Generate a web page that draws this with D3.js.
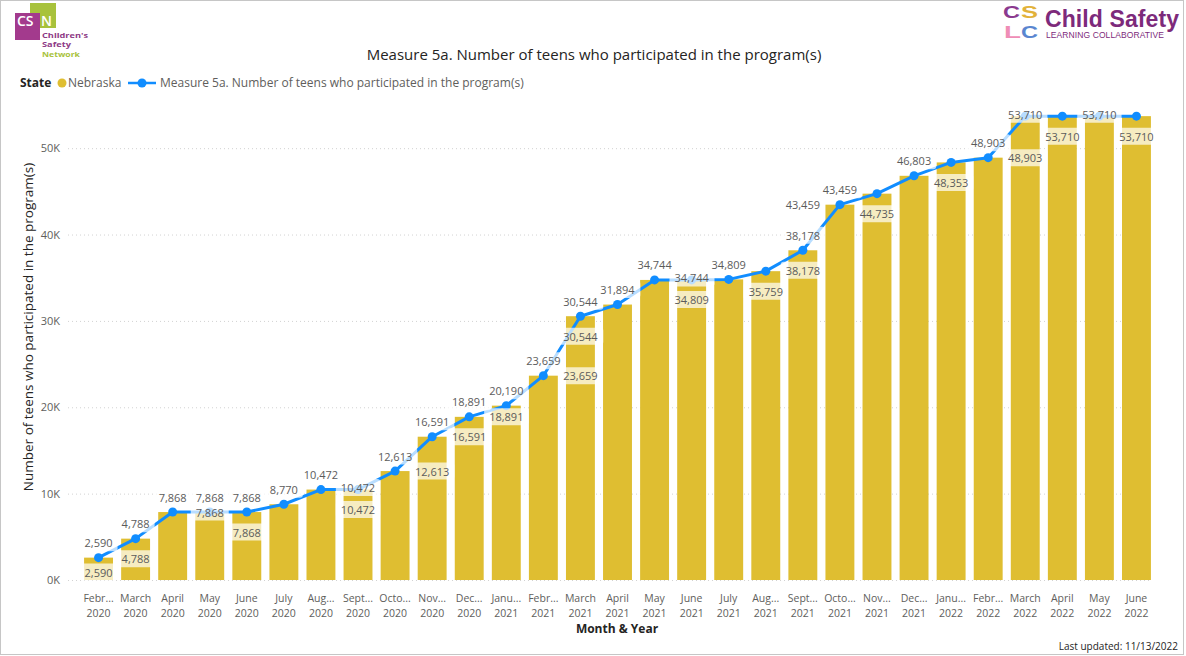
<!DOCTYPE html>
<html>
<head>
<meta charset="utf-8">
<script src="https://cdn.jsdelivr.net/npm/d3@7"></script>
<style>
  body { margin: 0; background: #fff; }
  text { font-family: "Segoe UI", "Open Sans", sans-serif; }
</style>
</head>
<body>
<svg id="chart" width="1186" height="656"></svg>
<script>
// month tick labels as shown (Power BI truncates the long ones)
var monthTicks = ["Febr...", "March", "April", "May", "June", "July", "Aug...", "Sept...", "Octo...", "Nov...", "Dec...",
  "Janu...", "Febr...", "March", "April", "May", "June", "July", "Aug...", "Sept...", "Octo...", "Nov...", "Dec...",
  "Janu...", "Febr...", "March", "April", "May", "June"];
var yearTicks = ["2020", "2020", "2020", "2020", "2020", "2020", "2020", "2020", "2020", "2020", "2020",
  "2021", "2021", "2021", "2021", "2021", "2021", "2021", "2021", "2021", "2021", "2021", "2021",
  "2022", "2022", "2022", "2022", "2022", "2022"];

// Nebraska, number of teens (bars and line carry the same measure)
var teens = [2590, 4788, 7868, 7868, 7868, 8770, 10472, 10472, 12613, 16591, 18891,
  20190, 23659, 30544, 31894, 34744, 34744, 34809, 35759, 38178, 43459, 44735, 46803,
  48353, 48903, 53710, 53710, 53710, 53710];

// which line labels power bi kept: "above" the dot, "on" the dot, or "" hidden
var lineLabelMode = ["above", "above", "above", "above", "above", "above", "above", "on", "above", "above", "above",
  "above", "above", "above", "above", "above", "on", "above", "", "above", "above", "", "above",
  "", "above", "on", "", "on", ""];

// column labels shown inside the bar end
var barLabelsInside = [2590, 4788, null, null, 7868, null, null, 10472, null, null, null,
  null, null, 30544, null, null, 34809, null, 35759, 38178, null, 44735, null,
  48353, null, null, 53710, null, 53710];
// column labels shown at their own level
var barLabelsLevel = [null, null, null, 7868, null, null, null, null, null, 12613, 16591,
  18891, null, 23659, null, null, null, null, null, 43459, null, null, null,
  null, null, 48903, null, null, null];

var yTicks = [0, 10000, 20000, 30000, 40000, 50000];

var svg = d3.select("#chart");
var fmt = d3.format(",");
var barColor = "#DFBE31", lineColor = "#118DFF";

svg.append("rect")
  .attr("x", 0.5).attr("y", 0.5).attr("width", 1183).attr("height", 654)
  .attr("fill", "#fff").attr("stroke", "#c6c6c6");

// logos, top left and top right
var csn = svg.append("g");
csn.append("rect").attr("x", 30).attr("y", 3).attr("width", 26).attr("height", 25).attr("fill", "#A8C23C");
csn.append("rect").attr("x", 15).attr("y", 13).attr("width", 25).attr("height", 27).attr("fill", "#A33A8D");
var csnText = csn.append("text").attr("y", 26).attr("fill", "#fff").attr("font-size", 14).attr("font-weight", 600);
csnText.append("tspan").attr("x", 17).text("CS");
csnText.append("tspan").attr("x", 41).text("N");
[["Children's", 37.5, 46, "#8E3A86"], ["Safety", 47, 29, "#8E3A86"], ["Network", 56.5, 38, "#A8C23C"]].forEach(function(t) {
  csn.append("text").attr("x", 42).attr("y", t[1]).attr("fill", t[3])
    .attr("font-size", 7).attr("font-weight", 700)
    .attr("textLength", t[2]).attr("lengthAdjust", "spacingAndGlyphs").text(t[0]);
});

var logoFont = "'Liberation Sans', Arial, sans-serif";
[["C", 1003, 18, "#8B3A8F"], ["S", 1021, 18, "#E2B23A"], ["L", 1004, 38, "#EF8DB6"], ["C", 1021, 38, "#5A86D0"]].forEach(function(l) {
  svg.append("text").attr("x", l[1]).attr("y", l[2]).attr("fill", l[3])
    .attr("font-size", 17).attr("font-weight", 900)
    .attr("textLength", 17).attr("lengthAdjust", "spacingAndGlyphs")
    .style("font-family", logoFont).text(l[0]);
});
svg.append("text").attr("x", 1045).attr("y", 27).attr("fill", "#7D2A7B")
  .attr("font-size", 23).attr("font-weight", 700).attr("textLength", 134)
  .style("font-family", logoFont).text("Child Safety");
svg.append("text").attr("x", 1046).attr("y", 38).attr("fill", "#7D2A7B")
  .attr("font-size", 8.5).attr("textLength", 118)
  .style("font-family", logoFont).text("LEARNING COLLABORATIVE");

// title
svg.append("text").attr("x", 594).attr("y", 60).attr("text-anchor", "middle")
  .attr("font-size", 15).attr("fill", "#252423")
  .text("Measure 5a. Number of teens who participated in the program(s)");

// legend
var leg = svg.append("g").attr("font-size", 12);
leg.append("text").attr("x", 20).attr("y", 87).attr("font-weight", 700).attr("fill", "#252423").text("State");
leg.append("circle").attr("cx", 62).attr("cy", 83).attr("r", 4.5).attr("fill", barColor);
leg.append("text").attr("x", 68).attr("y", 87).attr("fill", "#605E5C").text("Nebraska");
leg.append("line").attr("x1", 128).attr("x2", 156).attr("y1", 83).attr("y2", 83).attr("stroke", lineColor).attr("stroke-width", 2.5);
leg.append("circle").attr("cx", 142).attr("cy", 83).attr("r", 4.5).attr("fill", lineColor);
leg.append("text").attr("x", 160).attr("y", 87).attr("fill", "#605E5C")
  .text("Measure 5a. Number of teens who participated in the program(s)");

// scales
var x = d3.scaleBand().domain(d3.range(teens.length)).range([80, 1155]).paddingInner(0.22).paddingOuter(0.11);
var y = d3.scaleLinear().domain([0, 55000]).range([580, 105]);
var cx = function(i) { return x(i) + x.bandwidth() / 2; };

// y axis with dotted grid
var yAxis = svg.append("g").attr("transform", "translate(68,0)")
  .call(d3.axisLeft(y).tickValues(yTicks).tickSize(-1082).tickPadding(8)
    .tickFormat(function(d) { return (d / 1000) + "K"; }));
yAxis.select(".domain").remove();
yAxis.selectAll(".tick line").attr("stroke", "#d2d2d2").attr("stroke-dasharray", "1,3");
yAxis.selectAll(".tick text").attr("fill", "#605E5C").attr("font-size", 11)
  .style("font-family", "'Segoe UI', 'Open Sans', sans-serif");

svg.append("text")
  .attr("transform", "translate(33,327) rotate(-90)")
  .attr("text-anchor", "middle").attr("font-size", 13.5).attr("fill", "#252423")
  .text("Number of teens who participated in the program(s)");

// bars
svg.append("g").selectAll("rect").data(teens).enter().append("rect")
  .attr("x", function(d, i) { return x(i); })
  .attr("y", function(d) { return y(d); })
  .attr("width", x.bandwidth())
  .attr("height", function(d) { return y(0) - y(d); })
  .attr("fill", barColor);

// x axis labels (two lines)
var xt = svg.append("g").attr("font-size", 10.5).attr("fill", "#605E5C").attr("text-anchor", "middle");
teens.forEach(function(d, i) {
  var t = xt.append("text").attr("x", cx(i)).attr("y", 602);
  t.append("tspan").attr("x", cx(i)).text(monthTicks[i]);
  t.append("tspan").attr("x", cx(i)).attr("dy", 15).text(yearTicks[i]);
});
svg.append("text").attr("x", 617).attr("y", 633).attr("text-anchor", "middle")
  .attr("font-size", 12).attr("font-weight", 700).attr("fill", "#252423").text("Month & Year");

// line + markers
var line = d3.line().x(function(d, i) { return cx(i); }).y(function(d) { return y(d); });
svg.append("path").datum(teens).attr("d", line)
  .attr("fill", "none").attr("stroke", lineColor).attr("stroke-width", 3).attr("stroke-linejoin", "round");
svg.append("g").selectAll("circle").data(teens).enter().append("circle")
  .attr("cx", function(d, i) { return cx(i); })
  .attr("cy", function(d) { return y(d); })
  .attr("r", 4.5).attr("fill", lineColor);

// data labels with the translucent white backing power bi draws
var labelLayer = svg.append("g").attr("font-size", 11).attr("fill", "#5b5b5b");
function addLabel(xc, yc, txt) {
  var g = labelLayer.append("g");
  var t = g.append("text").attr("x", xc).attr("y", yc).attr("text-anchor", "middle")
    .attr("dominant-baseline", "central").text(txt);
  var b = t.node().getBBox();
  g.insert("rect", "text")
    .attr("x", b.x - 5).attr("y", yc - 8.5).attr("width", b.width + 10).attr("height", 17)
    .attr("rx", 3).attr("fill", "#fff").attr("fill-opacity", 0.7);
}

teens.forEach(function(d, i) {
  if (barLabelsInside[i] != null) {
    addLabel(cx(i), Math.min(y(barLabelsInside[i]) + 20, y(0) - 8), fmt(barLabelsInside[i]));
  }
  if (barLabelsLevel[i] != null) {
    addLabel(cx(i), y(barLabelsLevel[i]), fmt(barLabelsLevel[i]));
  }
});
teens.forEach(function(d, i) {
  if (lineLabelMode[i] == "above") addLabel(cx(i), y(d) - 15, fmt(d));
  else if (lineLabelMode[i] == "on") addLabel(cx(i), y(d) - 2, fmt(d));
});

svg.append("text").attr("x", 1178).attr("y", 650).attr("text-anchor", "end")
  .attr("font-size", 10).attr("fill", "#252423").text("Last updated: 11/13/2022");
</script>
</body>
</html>
